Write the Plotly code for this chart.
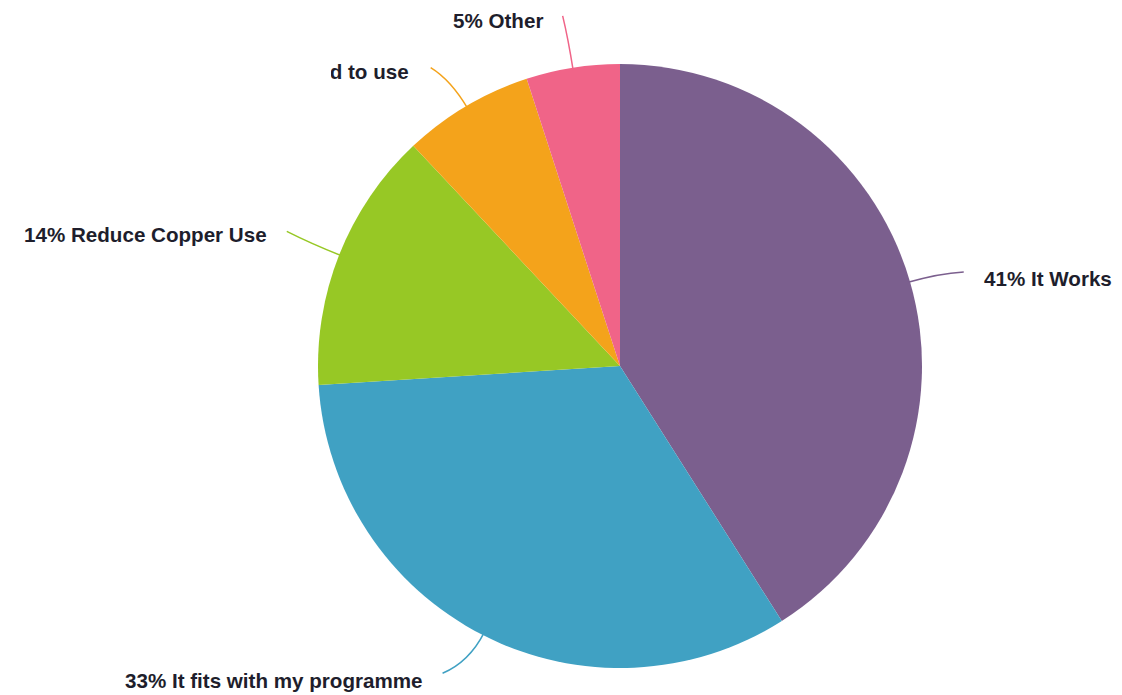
import numpy as np
import plotly.graph_objects as go

# ---- data ----
labels = ["It Works", "It fits with my programme", "Reduce Copper Use",
          "Easy to install, handle and good to use", "Other"]
values = [41, 33, 14, 7, 5]
colors = ["#7B5F8E", "#40A1C3", "#97C825", "#F4A31B", "#F06488"]

# ---- layout constants (screen pixels) ----
SCREEN_W, SCREEN_H = 1122, 695
OFF = 8                      # browser body margin
W, H = SCREEN_W - OFF, SCREEN_H
cx_px, cy_px, R = 620 - OFF, 366 - OFF, 302
dom_x = [(cx_px - R) / W, (cx_px + R) / W]
dom_y = [1 - (cy_px + R) / H, 1 - (cy_px - R) / H]
line_end_r = [1.18, 1.175, 1.19, 1.17, 1.175]   # leader-line end radius (x R)
line_end_nudge = [0.9, 3.0, 0.4, -1.8, -0.3]    # leader-line end angle tweak (deg)
label_dy = [7, 7, 3, 6, 5]                      # label offset below line end (px)
CLIP_X = 326 - OFF + 5       # where the long label is cut in the reference

fig = go.Figure(go.Pie(
    labels=labels, values=values, sort=False, direction="clockwise", rotation=0,
    marker=dict(colors=colors, line=dict(width=0)),
    textinfo="none", hoverinfo="skip", showlegend=False,
    domain=dict(x=dom_x, y=dom_y),
))

def to_paper(px, py):
    return px / W, 1 - py / H

def polar(r, deg):
    t = np.deg2rad(deg)
    return cx_px + r * np.sin(t), cy_px - r * np.cos(t)

FONT = dict(family="Liberation Sans", size=20.6, color="#1e1e2c", weight="bold")

vals = np.array(values, dtype=float)
frac = vals / vals.sum()
mids = (np.cumsum(frac) - frac / 2) * 360
annotations, shapes = [], []
for lab, f, mid, col, rf, nud, dy in zip(labels, frac, mids, colors,
                                         line_end_r, line_end_nudge, label_dy):
    side = 1 if np.sin(np.deg2rad(mid)) >= 0 else -1
    p0 = polar(0.99 * R, mid)
    p1 = polar(1.10 * R, mid)
    p2 = polar(rf * R, mid + nud)
    a0, a1, a2 = to_paper(*p0), to_paper(*p1), to_paper(*p2)
    shapes.append(dict(type="path", xref="paper", yref="paper",
                       path=f"M {a0[0]} {a0[1]} Q {a1[0]} {a1[1]} {a2[0]} {a2[1]}",
                       line=dict(color=col, width=1.5)))
    text = f"{round(f * 100):.0f}% {lab}"
    if lab.startswith("Easy"):
        # this label is cut off on its left in the reference: draw it clipped in its own subplot
        fig.add_trace(go.Scatter(
            x=[p2[0] - 22], y=[p2[1] + dy], mode="text", text=[text],
            textposition="middle left", textfont=FONT, cliponaxis=True,
            hoverinfo="skip", showlegend=False, xaxis="x2", yaxis="y2"))
        continue
    tx, ty = to_paper(p2[0] + side * 18, p2[1] + dy)
    annotations.append(dict(x=tx, y=ty, xref="paper", yref="paper",
                            text=text, showarrow=False,
                            xanchor="left" if side > 0 else "right", yanchor="middle",
                            font=FONT))

fig.update_layout(
    width=W, height=H, margin=dict(l=0, r=0, t=0, b=0),
    paper_bgcolor="white", plot_bgcolor="rgba(0,0,0,0)",
    annotations=annotations, shapes=shapes,
    xaxis2=dict(domain=[CLIP_X / W, 1], range=[CLIP_X, W], visible=False,
                fixedrange=True, anchor="y2"),
    yaxis2=dict(domain=[0, 1], range=[H, 0], visible=False, fixedrange=True,
                anchor="x2"),
)
fig.write_html("out.html")
